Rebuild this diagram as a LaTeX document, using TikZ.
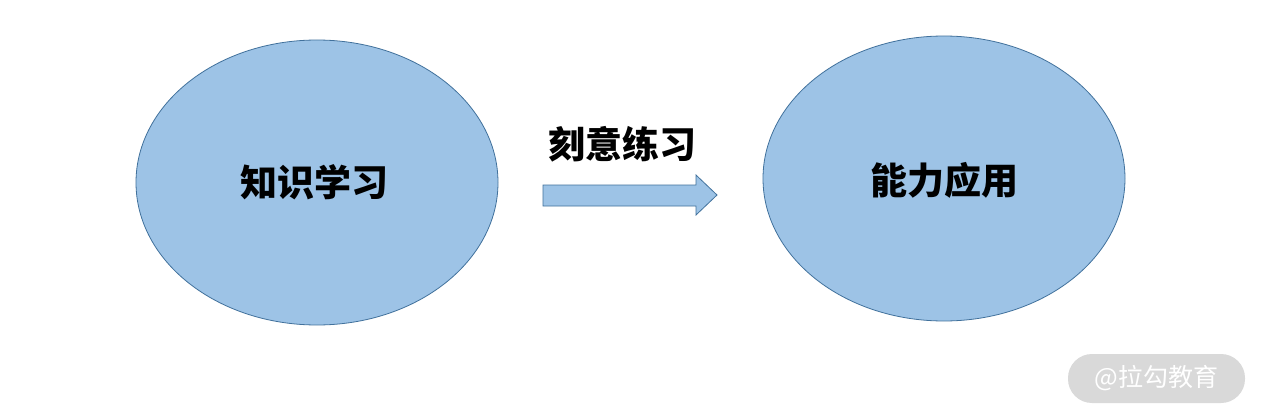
\documentclass[tikz,border=0pt]{standalone}
\usepackage{fontspec}
\usetikzlibrary{shapes.geometric}
\newfontfamily\cjk{Noto Sans CJK SC}
\definecolor{ellfill}{HTML}{9DC3E6}
\definecolor{elldraw}{HTML}{41719C}
\definecolor{wmgray}{HTML}{D9D9D9}
\begin{document}
\begin{tikzpicture}[x=1pt,y=-1pt,
  blob/.style={ellipse, draw=elldraw, line width=0.8pt, fill=ellfill, minimum width=362pt, minimum height=285pt, inner sep=0pt},
  lbl/.style={font=\cjk\bfseries\fontsize{37}{42}\selectfont, text=black},
  blockarrow/.style={draw=elldraw, line width=0.8pt, fill=ellfill},
  wm/.style={fill=wmgray, rounded corners=24pt, minimum width=177pt, minimum height=49pt, inner sep=0pt, text=white, font=\cjk\fontsize{25}{30}\selectfont}]
\useasboundingbox[fill=white] (0,0) rectangle (1262,420);
\node[blob] (learn) at (317,182.5) {};
\node[lbl] (learnt) at (314,182) {知识学习};
\node[blob] (apply) at (944,178.5) {};
\node[lbl] (applyt) at (944,180) {能力应用};
\coordinate (a1) at (543,185);
\coordinate (a2) at (696,185);
\coordinate (a3) at (696,175);
\coordinate (a4) at (717,195);
\coordinate (a5) at (696,215);
\coordinate (a6) at (696,206);
\coordinate (a7) at (543,206);
\draw[blockarrow] (a1) -- (a2) -- (a3) -- (a4) -- (a5) -- (a6) -- (a7) -- cycle;
\node[lbl] (practice) at (622,144) {刻意练习};
\node[wm] (mark) at (1156.5,378.5) {@拉勾教育};
\end{tikzpicture}
\end{document}
